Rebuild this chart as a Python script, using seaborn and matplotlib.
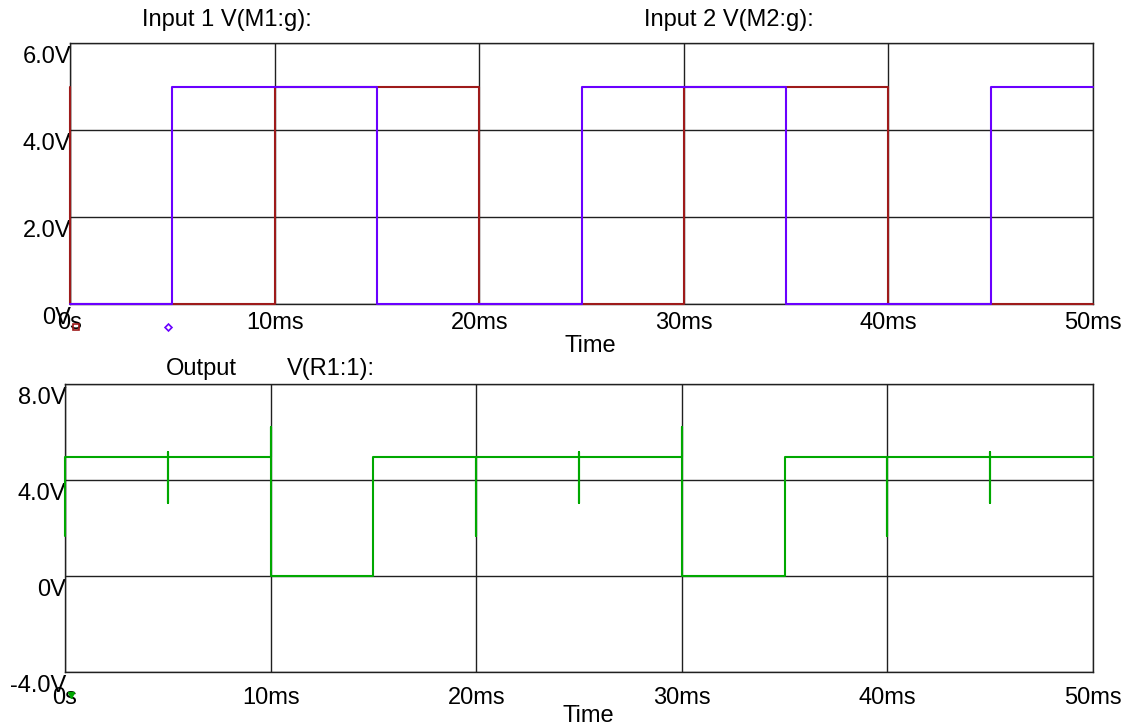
import numpy as np
import pandas as pd
import matplotlib
matplotlib.use("Agg")
import matplotlib.pyplot as plt
import matplotlib.transforms as mtransforms
import seaborn as sns

# Gate inputs: switching instants (ms) and the level (V) held from each instant
in1_time = [0, 0, 10, 20, 30, 40, 50]
in1_volt = [5, 0, 5, 0, 5, 0, 0]
in2_time = [0, 5, 15, 25, 35, 45, 50]
in2_volt = [0, 5, 0, 5, 0, 5, 5]

# Gate output V(R1:1): trace vertices (ms, V) including switching glitches
out_time = [0, 0, 5, 5, 5, 5, 10, 10, 10, 15, 15, 20, 20, 20,
            25, 25, 25, 25, 30, 30, 30, 35, 35, 40, 40, 40,
            45, 45, 45, 45, 50]
out_volt = [1.65, 4.95, 4.95, 3.05, 5.15, 4.95, 4.95, 6.2, 0.0, 0.0, 4.95, 4.95, 1.65, 4.95,
            4.95, 3.05, 5.15, 4.95, 4.95, 6.2, 0.0, 0.0, 4.95, 4.95, 1.65, 4.95,
            4.95, 3.05, 5.15, 4.95, 4.95]

x_ticks = [0, 10, 20, 30, 40, 50]
x_labels = ["0s", "10ms", "20ms", "30ms", "40ms", "50ms"]
top_y_ticks = [0, 2, 4, 6]
top_y_labels = ["0V", "2.0V", "4.0V", "6.0V"]
bot_y_ticks = [-4, 0, 4, 8]
bot_y_labels = ["-4.0V", "0V", "4.0V", "8.0V"]

RED = "#9e1a1a"
PURPLE = "#6a00ff"
GREEN = "#00a800"
GRID = "#202020"

sns.set_theme(style="white")
plt.rcParams["font.family"] = ["Liberation Sans", "DejaVu Sans"]
plt.rcParams["text.color"] = "black"
plt.rcParams["xtick.color"] = "black"
plt.rcParams["ytick.color"] = "black"
FS = 17


def step_frame(t, v):
    # expand step breakpoints into explicit vertices (hold, then switch)
    tt, vv = [], []
    for i in range(len(t)):
        if i > 0:
            tt.append(t[i])
            vv.append(v[i - 1])
        tt.append(t[i])
        vv.append(v[i])
    return pd.DataFrame({"t": tt, "v": vv})


fig = plt.figure(figsize=(11.28, 7.28), dpi=100)
ax1 = fig.add_axes([70 / 1128, 1 - 304 / 728, 1023 / 1128, 261 / 728])
ax2 = fig.add_axes([65 / 1128, 1 - 672 / 728, 1028 / 1128, 288 / 728])


def style_axes(ax, yticks, ylabels, ylim, xpad):
    ax.set_xlim(0, 50)
    ax.set_ylim(*ylim)
    ax.set_xticks(x_ticks)
    ax.set_xticklabels(x_labels, fontsize=FS, color="black")
    ax.set_yticks(yticks)
    ax.set_yticklabels(ylabels, fontsize=FS, color="black")
    ax.tick_params(axis="both", length=0, colors="black")
    ax.tick_params(axis="x", pad=xpad)
    ax.tick_params(axis="y", pad=-1)
    for lab in ax.get_yticklabels():
        lab.set_verticalalignment("top")
    ax.grid(True, color=GRID, linewidth=1.0)
    for s in ax.spines.values():
        s.set_color(GRID)
        s.set_linewidth(1.0)
        s.set_zorder(1.5)
    ax.set_xlabel("")
    ax.set_ylabel("")
    ax.set_facecolor("white")


# Top panel: the two inputs
sns.lineplot(data=step_frame(in1_time, in1_volt), x="t", y="v", ax=ax1,
             sort=False, estimator=None, color=RED, linewidth=1.5, zorder=3,
             clip_on=False)
sns.lineplot(data=step_frame(in2_time, in2_volt), x="t", y="v", ax=ax1,
             sort=False, estimator=None, color=PURPLE, linewidth=1.5, zorder=3,
             clip_on=False)
style_axes(ax1, top_y_ticks, top_y_labels, (0, 6), 6)

# Bottom panel: the output
sns.lineplot(data=pd.DataFrame({"t": out_time, "v": out_volt}), x="t", y="v", ax=ax2,
             sort=False, estimator=None, color=GREEN, linewidth=1.5, zorder=3,
             clip_on=False)
style_axes(ax2, bot_y_ticks, bot_y_labels, (-4, 8), 11)

# shift the value labels slightly below their grid lines
for ax in (ax1, ax2):
    off = mtransforms.ScaledTranslation(0, -3 / 100, fig.dpi_scale_trans)
    for lab in ax.get_yticklabels():
        lab.set_transform(lab.get_transform() + off)

# Trace symbols below the axes
tr1 = mtransforms.blended_transform_factory(ax1.transData, ax1.transAxes)
ax1.plot([0.3], [-0.088], marker="s", ms=4, mfc="none", mec=RED, mew=1.2,
         transform=tr1, clip_on=False)
ax1.plot([4.8], [-0.088], marker="D", ms=3.5, mfc="none", mec=PURPLE, mew=1.2,
         transform=tr1, clip_on=False)
tr2 = mtransforms.blended_transform_factory(ax2.transData, ax2.transAxes)
ax2.plot([0.3], [-0.08], marker="v", ms=4, color=GREEN,
         transform=tr2, clip_on=False)

# Trace names and axis titles
fig.text(227 / 1128, 1 - 20 / 728, "Input 1 V(M1:g):", fontsize=FS, ha="center", va="center")
fig.text(729 / 1128, 1 - 20 / 728, "Input 2 V(M2:g):", fontsize=FS, ha="center", va="center")
fig.text(201 / 1128, 1 - 369 / 728, "Output", fontsize=FS, ha="center", va="center")
fig.text(287 / 1128, 1 - 369 / 728, "V(R1:1):", fontsize=FS, ha="left", va="center")
fig.text(590 / 1128, 1 - 346 / 728, "Time", fontsize=FS, ha="center", va="center")
fig.text(588 / 1128, 1 - 716 / 728, "Time", fontsize=FS, ha="center", va="center")

fig.savefig("out.png", dpi=100, facecolor="white")
